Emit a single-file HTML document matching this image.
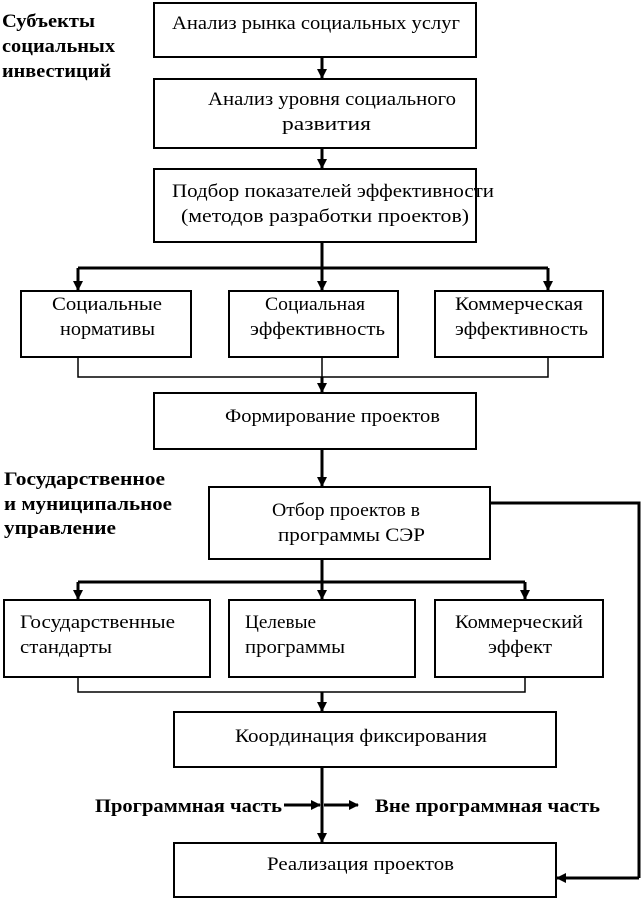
<!DOCTYPE html>
<html><head><meta charset="utf-8"><style>
html,body{margin:0;padding:0;background:#fff}
svg{display:block}
text{font-family:"Liberation Serif",serif;font-size:19px;fill:#000}
.b{font-weight:bold}
</style></head><body>
<svg width="642" height="900" viewBox="0 0 642 900" xmlns="http://www.w3.org/2000/svg">
<defs><marker id="a" markerWidth="10" markerHeight="10" refX="9" refY="5" orient="auto" markerUnits="userSpaceOnUse"><path d="M0,0 L10,5 L0,10 z" fill="#000"/></marker></defs>
<g fill="none" stroke="#000" stroke-width="2">
<rect x="154" y="3" width="322" height="54"/>
<rect x="154" y="79" width="322" height="69"/>
<rect x="154" y="169" width="322" height="73"/>
<rect x="21" y="291" width="170" height="66"/>
<rect x="229" y="291" width="169" height="66"/>
<rect x="435" y="291" width="168" height="66"/>
<rect x="154" y="393" width="322" height="56"/>
<rect x="209" y="487" width="281" height="72"/>
<rect x="4" y="600" width="206" height="77"/>
<rect x="229" y="600" width="186" height="77"/>
<rect x="435" y="600" width="168" height="77"/>
<rect x="174" y="712" width="382" height="55"/>
<rect x="174" y="843" width="382" height="54"/>
</g>
<g fill="none" stroke="#000" stroke-width="3">
<line x1="322" y1="57" x2="322" y2="78" marker-end="url(#a)"/>
<line x1="322" y1="148" x2="322" y2="168" marker-end="url(#a)"/>
<line x1="322" y1="242" x2="322" y2="290" marker-end="url(#a)"/>
<path d="M78,268 H548"/>
<line x1="78" y1="268" x2="78" y2="290" marker-end="url(#a)"/>
<line x1="548" y1="268" x2="548" y2="290" marker-end="url(#a)"/>
<line x1="322" y1="377" x2="322" y2="392" marker-end="url(#a)"/>
<line x1="322" y1="449" x2="322" y2="486" marker-end="url(#a)"/>
<line x1="322" y1="559" x2="322" y2="599" marker-end="url(#a)"/>
<path d="M78,582 H525"/>
<line x1="78" y1="582" x2="78" y2="599" marker-end="url(#a)"/>
<line x1="525" y1="582" x2="525" y2="599" marker-end="url(#a)"/>
<line x1="322" y1="692" x2="322" y2="711" marker-end="url(#a)"/>
<line x1="322" y1="767" x2="322" y2="842" marker-end="url(#a)"/>
<line x1="284" y1="805" x2="320" y2="805" marker-end="url(#a)"/>
<line x1="324" y1="805" x2="358" y2="805" marker-end="url(#a)"/>
<path d="M490,503 H639 V878"/>
<line x1="639" y1="878" x2="557" y2="878" marker-end="url(#a)"/>
</g>
<g fill="none" stroke="#000" stroke-width="1.5">
<path d="M78,357 V377 H548 V357 M322,357 V377"/>
<path d="M78,677 V692 H525 V677"/>
</g>
<g lengthAdjust="spacingAndGlyphs">
<text x="172" y="29" textLength="288" lengthAdjust="spacingAndGlyphs">Анализ рынка социальных услуг</text>
<text x="208" y="105" textLength="248" lengthAdjust="spacingAndGlyphs">Анализ уровня социального</text>
<text x="282" y="130" textLength="89" lengthAdjust="spacingAndGlyphs">развития</text>
<text x="172" y="197" textLength="322" lengthAdjust="spacingAndGlyphs">Подбор показателей эффективности</text>
<text x="181" y="222" textLength="288" lengthAdjust="spacingAndGlyphs">(методов разработки проектов)</text>
<text x="52" y="310" textLength="110" lengthAdjust="spacingAndGlyphs">Социальные</text>
<text x="60" y="335" textLength="95" lengthAdjust="spacingAndGlyphs">нормативы</text>
<text x="265" y="310" textLength="100" lengthAdjust="spacingAndGlyphs">Социальная</text>
<text x="250" y="335" textLength="135" lengthAdjust="spacingAndGlyphs">эффективность</text>
<text x="455" y="310" textLength="128" lengthAdjust="spacingAndGlyphs">Коммерческая</text>
<text x="455" y="335" textLength="133" lengthAdjust="spacingAndGlyphs">эффективность</text>
<text x="225" y="422" textLength="215" lengthAdjust="spacingAndGlyphs">Формирование проектов</text>
<text x="272" y="516" textLength="148" lengthAdjust="spacingAndGlyphs">Отбор проектов в</text>
<text x="278" y="541" textLength="147" lengthAdjust="spacingAndGlyphs">программы СЭР</text>
<text x="20" y="628" textLength="155" lengthAdjust="spacingAndGlyphs">Государственные</text>
<text x="20" y="653" textLength="92" lengthAdjust="spacingAndGlyphs">стандарты</text>
<text x="245" y="628" textLength="71" lengthAdjust="spacingAndGlyphs">Целевые</text>
<text x="245" y="653" textLength="100" lengthAdjust="spacingAndGlyphs">программы</text>
<text x="455" y="628" textLength="128" lengthAdjust="spacingAndGlyphs">Коммерческий</text>
<text x="488" y="653" textLength="64" lengthAdjust="spacingAndGlyphs">эффект</text>
<text x="235" y="742" textLength="252" lengthAdjust="spacingAndGlyphs">Координация фиксирования</text>
<text x="267" y="870" textLength="187" lengthAdjust="spacingAndGlyphs">Реализация проектов</text>
<text class="b" x="2" y="27" textLength="93" lengthAdjust="spacingAndGlyphs">Субъекты</text>
<text class="b" x="2" y="52" textLength="113" lengthAdjust="spacingAndGlyphs">социальных</text>
<text class="b" x="2" y="77" textLength="109" lengthAdjust="spacingAndGlyphs">инвестиций</text>
<text class="b" x="4" y="485" textLength="161" lengthAdjust="spacingAndGlyphs">Государственное</text>
<text class="b" x="4" y="510" textLength="168" lengthAdjust="spacingAndGlyphs">и муниципальное</text>
<text class="b" x="4" y="534" textLength="112" lengthAdjust="spacingAndGlyphs">управление</text>
<text class="b" x="95" y="812" textLength="187" lengthAdjust="spacingAndGlyphs">Программная часть</text>
<text class="b" x="375" y="812" textLength="225" lengthAdjust="spacingAndGlyphs">Вне программная часть</text>
</g>
</svg>
</body></html>
